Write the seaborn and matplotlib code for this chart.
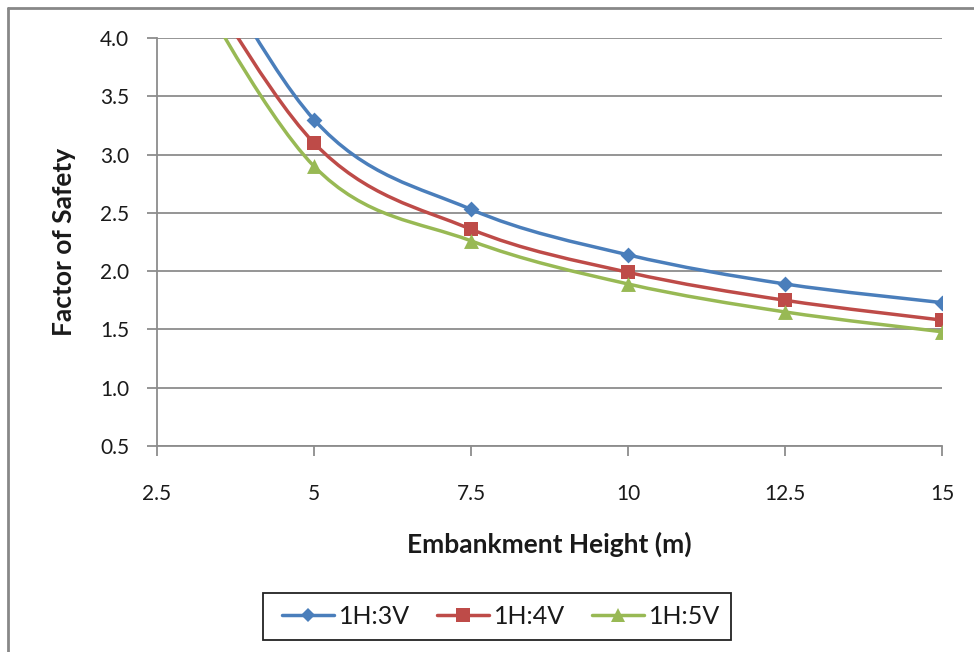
import numpy as np
import pandas as pd
import matplotlib
matplotlib.use("Agg")
import matplotlib.pyplot as plt
import seaborn as sns
from matplotlib.path import Path
from matplotlib.patches import PathPatch, Rectangle
from matplotlib.lines import Line2D

# ---- data ----
heights = [2.5, 5, 7.5, 10, 12.5, 15]
fos_3v = [5.50, 3.30, 2.53, 2.14, 1.89, 1.73]
fos_4v = [5.15, 3.10, 2.36, 1.99, 1.75, 1.58]
fos_5v = [5.00, 2.90, 2.26, 1.89, 1.65, 1.48]
series_names = ["1H:3V", "1H:4V", "1H:5V"]
x_ticks = [2.5, 5, 7.5, 10, 12.5, 15]
x_tick_labels = ["2.5", "5", "7.5", "10", "12.5", "15"]
y_ticks = [0.5, 1.0, 1.5, 2.0, 2.5, 3.0, 3.5, 4.0]
y_tick_labels = ["0.5", "1.0", "1.5", "2.0", "2.5", "3.0", "3.5", "4.0"]

colors = {"1H:3V": "#4A7EBB", "1H:4V": "#BE4B48", "1H:5V": "#98B954"}
markers = {"1H:3V": "D", "1H:4V": "s", "1H:5V": "^"}
msizes = {"1H:3V": 65, "1H:4V": 110, "1H:5V": 115}

df = pd.DataFrame({
    "height": heights * 3,
    "fos": fos_3v + fos_4v + fos_5v,
    "series": sum([[n] * len(heights) for n in series_names], []),
})

sns.set_theme(style="white")
plt.rcParams["font.family"] = ["Lato", "DejaVu Sans"]

fig = plt.figure(figsize=(9.74, 6.52), dpi=100)
ax = fig.add_axes([157 / 974, 1 - 446 / 652, (942 - 157) / 974, (446 - 38) / 652])


def smooth_path(xs, ys):
    # Excel-style smoothed line: cubic Bezier segments (Catmull-Rom control points)
    pts = np.column_stack([xs, ys]).astype(float)
    n = len(pts)
    verts = [pts[0]]
    codes = [Path.MOVETO]
    for i in range(n - 1):
        p0 = pts[i - 1] if i > 0 else pts[i]
        p1 = pts[i]
        p2 = pts[i + 1]
        p3 = pts[i + 2] if i + 2 < n else pts[i + 1]
        c1 = p1 + (p2 - p0) / 6.0
        c2 = p2 - (p3 - p1) / 6.0
        verts += [c1, c2, p2]
        codes += [Path.CURVE4] * 3
    return Path(verts, codes)


for name in series_names:
    sub = df[df["series"] == name]
    patch = PathPatch(smooth_path(sub["height"].values, sub["fos"].values),
                      facecolor="none", edgecolor=colors[name], lw=2.5,
                      transform=ax.transData, zorder=3, capstyle="round")
    ax.add_patch(patch)
    sns.scatterplot(data=sub, x="height", y="fos", marker=markers[name],
                    color=colors[name], s=msizes[name], linewidth=0,
                    ax=ax, zorder=4, legend=False, clip_on=True)

ax.set_xlim(2.5, 15)
ax.set_ylim(0.5, 4.0)
ax.set_xticks(x_ticks)
ax.set_xticklabels(x_tick_labels)
ax.set_yticks(y_ticks)
ax.set_yticklabels(y_tick_labels)

grid_c = "#8c8c8c"
ax.yaxis.grid(True, color=grid_c, lw=1.3)
ax.xaxis.grid(False)
ax.set_axisbelow(True)
for s in ["top", "right"]:
    ax.spines[s].set_visible(False)
for s in ["left", "bottom"]:
    ax.spines[s].set_color(grid_c)
    ax.spines[s].set_linewidth(1.3)

ax.tick_params(axis="both", which="major", direction="out", length=7,
               width=1.3, color=grid_c, labelsize=15, labelcolor="#1a1a1a")
ax.tick_params(axis="y", pad=13, left=True)
ax.tick_params(axis="x", pad=20, bottom=True)

ax.set_xlabel("Embankment Height (m)", fontsize=19, fontweight="bold",
              color="#1a1a1a", labelpad=20)
ax.set_ylabel("Factor of Safety", fontsize=19, fontweight="bold",
              color="#1a1a1a", labelpad=17)

handles = [Line2D([0], [0], color=colors[n], lw=2.5, marker=markers[n],
                  markersize={"1H:3V": 7.5, "1H:4V": 10, "1H:5V": 10}[n],
                  markeredgewidth=0) for n in series_names]
leg = fig.legend(handles, series_names, loc="center", ncol=3,
                 bbox_to_anchor=(501 / 974, 1 - 616.5 / 652),
                 frameon=False, fontsize=18, handlelength=2.1,
                 columnspacing=1.05, handletextpad=0.2)
for t in leg.get_texts():
    t.set_color("#1a1a1a")

# legend box
fig.add_artist(Rectangle((263 / 974, 1 - 640 / 652), (731 - 263) / 974, 47 / 652,
                         transform=fig.transFigure, facecolor="none",
                         edgecolor="#222222", lw=1.3))

# outer chart border (top and left visible)
fig.add_artist(Line2D([8 / 974, 1.0], [1 - 8 / 652, 1 - 8 / 652],
                      transform=fig.transFigure, color="#888888", lw=2))
fig.add_artist(Line2D([8 / 974, 8 / 974], [1 - 8 / 652, 0.0],
                      transform=fig.transFigure, color="#888888", lw=2))

fig.savefig("out.png", dpi=100, facecolor="white")
